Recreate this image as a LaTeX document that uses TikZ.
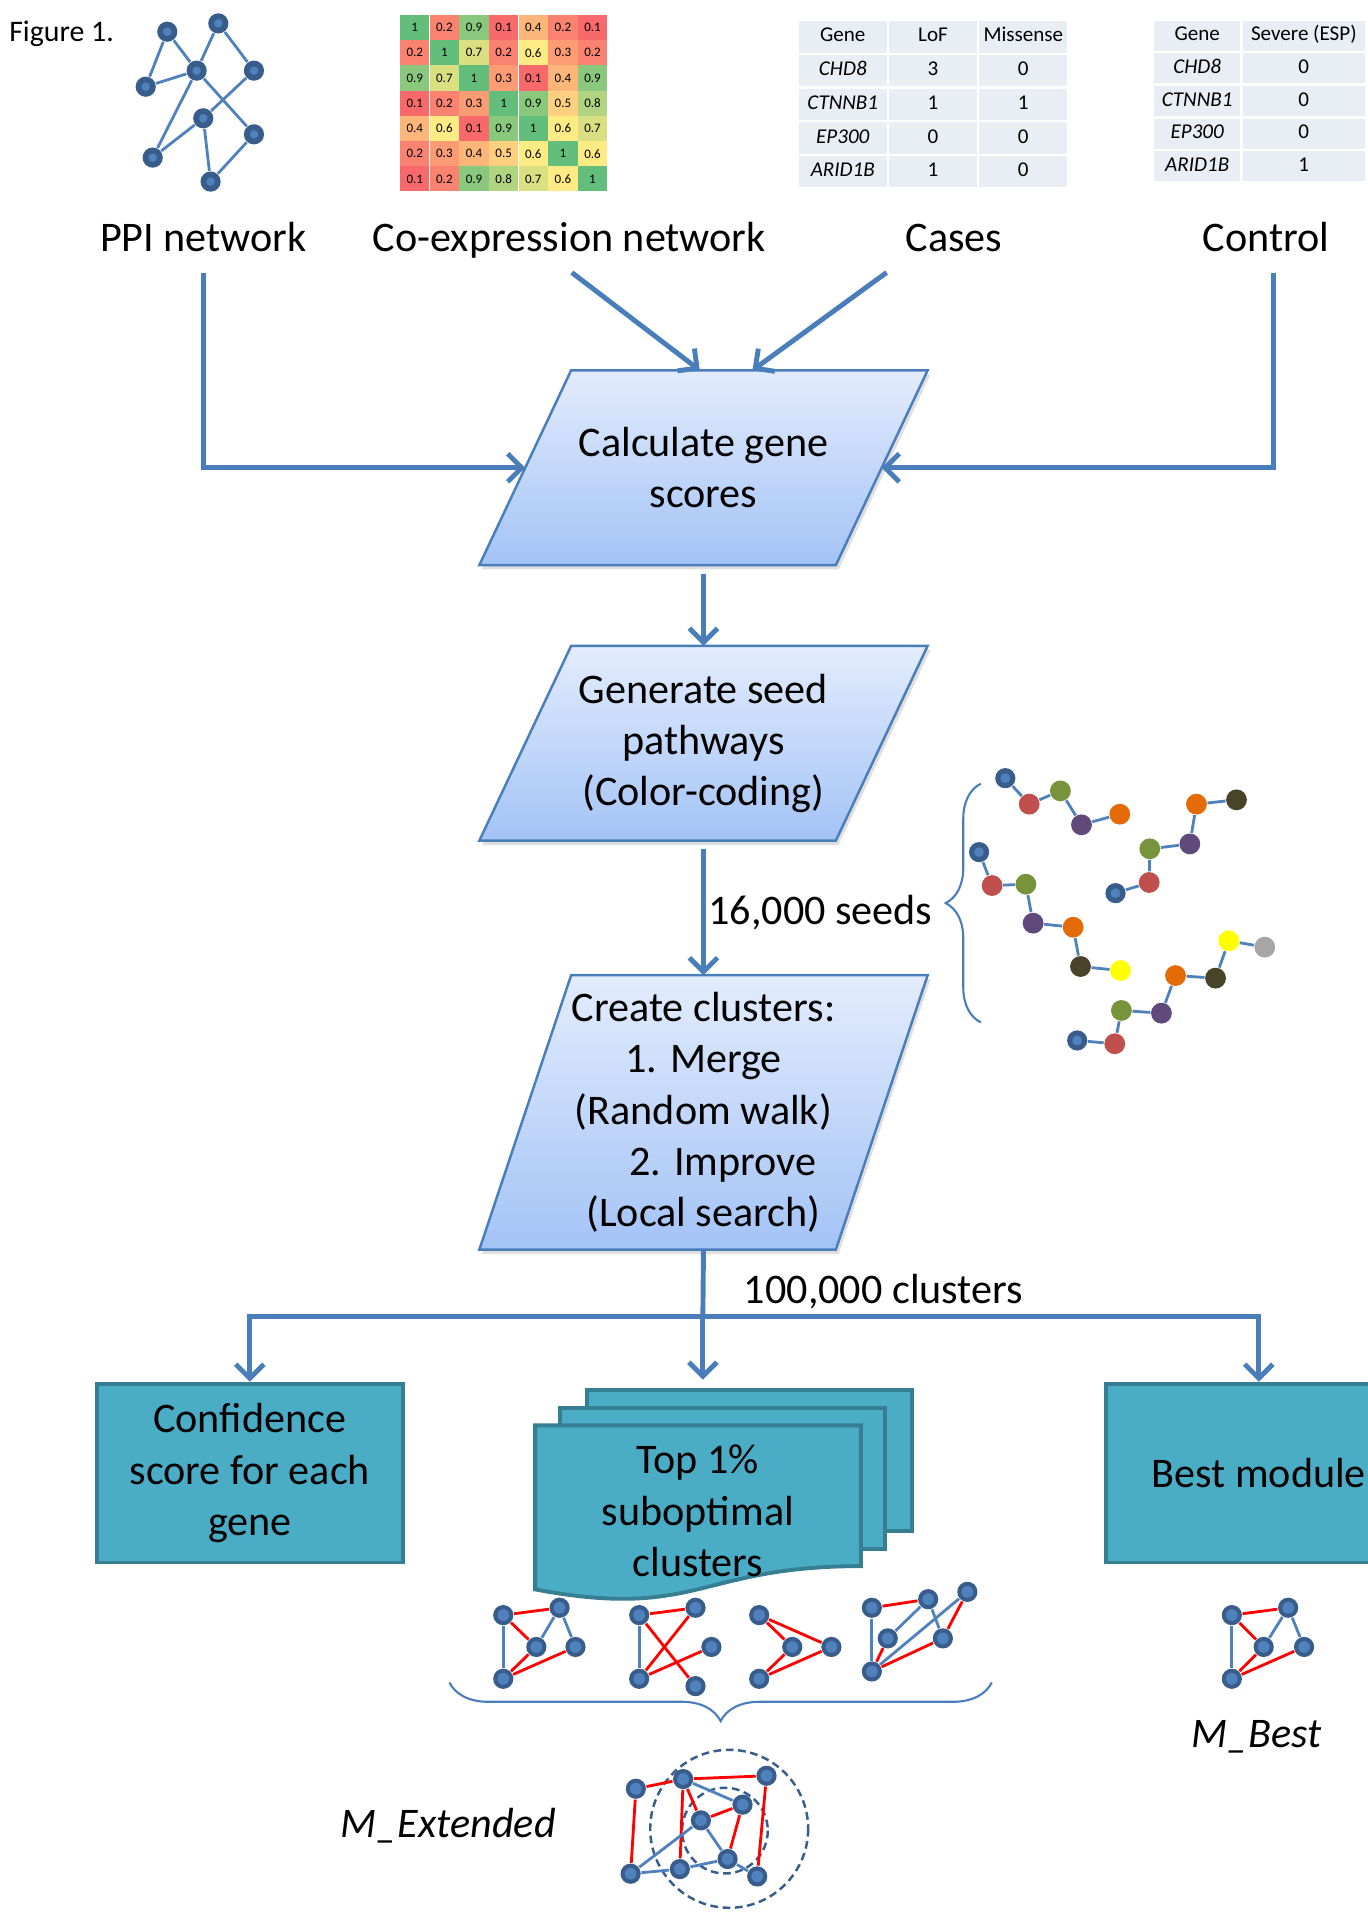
\documentclass[tikz,border=0pt]{standalone}
\usepackage{fontspec}
\setmainfont{Carlito}
\usetikzlibrary{arrows.meta}
\usetikzlibrary{positioning, calc, matrix}
\usetikzlibrary{backgrounds, shadows}
\usetikzlibrary{decorations.pathreplacing}

\newdimen\pxl
\pxl=0.012247cm

\definecolor{flowblue}{HTML}{4A7EBB}
\definecolor{paraTop}{HTML}{E3ECFD}
\definecolor{paraBottom}{HTML}{A3C3F6}
\definecolor{paraLine}{HTML}{4A7EBB}
\definecolor{tealFill}{HTML}{4BACC6}
\definecolor{tealLine}{HTML}{367E92}
\definecolor{netDark}{HTML}{385D8A}
\definecolor{netLight}{HTML}{4F81BD}
\definecolor{tabFill}{HTML}{E9EDF4}
\definecolor{hmRed}{HTML}{F8696B}
\definecolor{hmYellow}{HTML}{FFEB84}
\definecolor{hmGreen}{HTML}{63BE7B}
\definecolor{seedRed}{HTML}{C0504D}
\definecolor{seedGreen}{HTML}{77933C}
\definecolor{seedPurple}{HTML}{604A7B}
\definecolor{seedOrange}{HTML}{E36C09}
\definecolor{seedDark}{HTML}{494429}
\definecolor{seedYellow}{HTML}{FFFF00}
\definecolor{seedGray}{HTML}{A6A6A6}

\tikzset{
lbl/.style={font=\fontsize{12}{14.6}\selectfont, inner sep=0pt, align=center},
toplbl/.style={lbl, anchor=base, text depth=0pt},
flow/.style={draw=flowblue, line width=1.4pt, -{Straight Barb[length=4pt, width=8pt]}},
parashape/.style={draw=paraLine, line width=0.7pt, top color=paraTop, bottom color=paraBottom,
    drop shadow={opacity=0.25, shadow xshift=0.8pt, shadow yshift=-1.2pt}},
paratext/.style={lbl, minimum width=290*\pxl, minimum height=#1*\pxl},
tealbox/.style={lbl, draw=tealLine, fill=tealFill, line width=1.1pt, minimum width=250*\pxl, minimum height=146*\pxl},
sheet/.style={draw=tealLine, fill=tealFill, line width=1.1pt, minimum width=265*\pxl, minimum height=115*\pxl},
tabcell/.style={fill=tabFill, font=\fontsize{6}{7}\selectfont, inner sep=0pt, text height=4.3pt, text depth=1.4pt, minimum width=25pt},
hmcell/.style={minimum width=8.4pt, minimum height=7.15pt, inner sep=0pt, font=\fontsize{3.7}{4}\selectfont},
gnode/.style={circle, fill=netDark, minimum size=16.5*\pxl, inner sep=0pt,
    path picture={\fill[netLight] (path picture bounding box.center) circle (#1*\pxl);}},
gnode/.default=4.8,
seednode/.style={circle, fill=#1, minimum size=17*\pxl, inner sep=0pt},
blueedge/.style={draw=netLight, line width=0.8pt},
rededge/.style={draw=red, line width=0.8pt},
seedlink/.style={draw=netLight, line width=0.8pt},
curly/.style={draw=flowblue, line width=0.6pt, decorate, decoration={brace, amplitude=#1}},
zone/.style={draw=netDark, line width=0.7pt, dash pattern=on 2.2pt off 1.3pt},
}

% parallelogram behind a text node
\newcommand\drawpara[1]{%
  \begin{scope}[on background layer]
    \path[parashape] ($(#1.north west)+(37.5,0)$) -- ($(#1.north east)+(37.5,0)$)
      -- ($(#1.south east)-(37.5,0)$) -- ($(#1.south west)-(37.5,0)$) -- cycle;
  \end{scope}}

\begin{document}
\begin{tikzpicture}[x=\pxl, y=-\pxl]
\useasboundingbox (0,0) rectangle (1117,1568);

\node[font=\fontsize{8.5}{10}\selectfont, anchor=west, inner sep=0pt] (figlbl) at (7,28) {Figure 1.};

% PPI network
\node[gnode=3.5] (p1) at (136.6,25.9) {};
\node[gnode=3.5] (p2) at (178.3,19.1) {};
\node[gnode=3.5] (p3) at (160.6,57.7) {};
\node[gnode=3.5] (p4) at (207.4,57.7) {};
\node[gnode=3.5] (p5) at (119,70.8) {};
\node[gnode=3.5] (p6) at (166,96.6) {};
\node[gnode=3.5] (p7) at (207.4,109.7) {};
\node[gnode=3.5] (p8) at (124.7,128.7) {};
\node[gnode=3.5] (p9) at (172,148.3) {};
\draw[blueedge] (p1) -- (p5);
\draw[blueedge] (p1) -- (p3);
\draw[blueedge] (p2) -- (p3);
\draw[blueedge] (p2) -- (p4);
\draw[blueedge] (p5) -- (p3);
\draw[blueedge] (p3) -- (p8);
\draw[blueedge] (p3) -- (p7);
\draw[blueedge] (p4) -- (p6);
\draw[blueedge] (p6) -- (p8);
\draw[blueedge] (p6) -- (p9);
\draw[blueedge] (p7) -- (p9);

% co-expression heat map
\foreach \vals [count=\r] in {{1,0.2,0.9,0.1,0.4,0.2,0.1},{0.2,1,0.7,0.2,0.6,0.3,0.2},
    {0.9,0.7,1,0.3,0.1,0.4,0.9},{0.1,0.2,0.3,1,0.9,0.5,0.8},{0.4,0.6,0.1,0.9,1,0.6,0.7},
    {0.2,0.3,0.4,0.5,0.6,1,0.6},{0.1,0.2,0.9,0.8,0.7,0.6,1}}{
  \foreach \v [count=\c] in \vals {
    \ifdim\v pt>0.6pt
      \pgfmathtruncatemacro\mixp{(\v-0.6)/0.4*100}\def\cellcol{hmGreen!\mixp!hmYellow}
    \else
      \pgfmathtruncatemacro\mixp{(\v-0.1)/0.5*100}\def\cellcol{hmYellow!\mixp!hmRed}
    \fi
    \node[hmcell, fill=\cellcol] (hm-\r-\c) at ({326.6+24.2*(\c-0.5)},{12.2+20.6*(\r-0.5)}) {\v};
  }
}

% variant tables
\matrix (casetab) [matrix of nodes, nodes={tabcell, minimum height=8.9pt},
    column sep=0.7pt, row sep=0.7pt] at (762,85.2) {
  Gene & LoF & Missense \\
  \textit{CHD8} & 3 & 0 \\
  \textit{CTNNB1} & 1 & 1 \\
  \textit{EP300} & 0 & 0 \\
  \textit{ARID1B} & 1 & 0 \\
};
\matrix (ctrltab) [matrix of nodes, nodes={tabcell, minimum height=8.6pt},
    column sep=0.7pt, row sep=0.7pt,
    column 1/.style={nodes={minimum width=24.6pt}},
    column 2/.style={nodes={minimum width=34.7pt}}] at (1028.5,82.5) {
  Gene & Severe (ESP) \\
  \textit{CHD8} & 0 \\
  \textit{CTNNB1} & 0 \\
  \textit{EP300} & 0 \\
  \textit{ARID1B} & 1 \\
};

% inputs
\node[toplbl] (ppi) at (166,205) {PPI network};
\node[toplbl] (coexp) at (465,205) {Co-expression network};
\node[toplbl] (cases) at (779,205) {Cases};
\node[toplbl] (ctrl) at (1034,205) {Control};

% pipeline
\node[paratext=158] (calc) at (574.5,382) {Calculate gene\\scores};
\drawpara{calc}
\node[paratext=158] (gen) at (574.5,607) {Generate seed\\pathways\\(Color-coding)};
\drawpara{gen}
\node[paratext=223] (clus) at (574.5,908.5) {Create clusters:\\1. Merge\\(Random walk)\\\hspace*{11pt}2. Improve\\(Local search)};
\drawpara{clus}

\draw[flow] ($(ppi.south)+(0,17)$) |- (calc.west);
\draw[flow] ($(ctrl.south)+(6,17)$) |- (calc.east);
\draw[flow] ($(coexp.south)+(2,17)$) -- ($(calc.north)+(-3,0)$);
\draw[flow] ($(cases.south)+(-55,17)$) -- ($(calc.north)+(40,0)$);
\draw[flow] ($(calc.south)+(0,7)$) -- (gen.north);
\draw[flow] ($(gen.south)+(0,7)$) -- (clus.north);
\node[lbl, anchor=west] (seedslbl) at (578,745) {16,000 seeds};

% outputs
\node[tealbox] (conf) at (204,1203) {Confidence\\score for each\\gene};
\node[tealbox] (best) at (1028,1203) {Best module};
\node[sheet] (sheet3) at (612,1193) {};
\node[sheet] (sheet2) at (590,1207.5) {};
\path[draw=tealLine, fill=tealFill, line width=1.1pt] (437,1164) -- (703,1164) -- (703,1279)
  .. controls (570,1279) and (570,1323) .. (437,1298) -- cycle;
\node[lbl] (topdoc) at (570,1234) {Top 1\%\\suboptimal\\clusters};

\coordinate (split) at (574,1075);
\draw[draw=flowblue, line width=1.4pt] (clus.south) -- (split);
\draw[flow, shorten >=2.5pt] (split) -- (split |- sheet3.north);
\draw[flow] (split) -| (conf.north);
\draw[flow] (split) -| (best.north);
\node[lbl, anchor=west] (clustlbl) at (607,1055) {100,000 clusters};

% seed pathways
\node[gnode=4] (s11) at (821,635.5) {};
\node[seednode=seedRed] (s12) at (840.5,656.7) {};
\node[seednode=seedGreen] (s13) at (866,645.9) {};
\node[seednode=seedPurple] (s14) at (883.2,673.6) {};
\node[seednode=seedOrange] (s15) at (914.5,664.9) {};
\draw[seedlink] (s11) -- (s12) -- (s13) -- (s14) -- (s15);

\node[gnode=4] (s21) at (799.6,695.9) {};
\node[seednode=seedRed] (s22) at (810.2,723.2) {};
\node[seednode=seedGreen] (s23) at (837.8,722.1) {};
\node[seednode=seedPurple] (s24) at (843.7,753.9) {};
\node[seednode=seedOrange] (s25) at (876.4,757.2) {};
\node[seednode=seedDark] (s26) at (882.4,789.3) {};
\node[seednode=seedYellow] (s27) at (915.1,792.6) {};
\draw[seedlink] (s21) -- (s22) -- (s23) -- (s24) -- (s25) -- (s26) -- (s27);

\node[gnode=4] (s31) at (911,729.4) {};
\node[seednode=seedRed] (s32) at (938.5,720.7) {};
\node[seednode=seedGreen] (s33) at (939,693.2) {};
\node[seednode=seedPurple] (s34) at (971.7,689.2) {};
\node[seednode=seedOrange] (s35) at (977.1,656.7) {};
\node[seednode=seedDark] (s36) at (1009.8,653.2) {};
\draw[seedlink] (s31) -- (s32) -- (s33) -- (s34) -- (s35) -- (s36);

\node[gnode=4] (s41) at (879.7,849.7) {};
\node[seednode=seedRed] (s42) at (910.4,852.4) {};
\node[seednode=seedGreen] (s43) at (915.8,825.2) {};
\node[seednode=seedPurple] (s44) at (948.5,827.4) {};
\node[seednode=seedOrange] (s45) at (960,796.7) {};
\node[seednode=seedDark] (s46) at (992.7,798.8) {};
\node[seednode=seedYellow] (s47) at (1003.5,768.3) {};
\node[seednode=seedGray] (s48) at (1032.9,773.5) {};
\draw[seedlink] (s41) -- (s42) -- (s43) -- (s44) -- (s45) -- (s46) -- (s47) -- (s48);

\draw[curly=10pt] (801,835) -- (801,640);

% suboptimal clusters
\node[gnode] (a1) at (411,1319) {};
\node[gnode] (a2) at (457,1313) {};
\node[gnode] (a3) at (438,1345) {};
\node[gnode] (a4) at (470,1345) {};
\node[gnode] (a5) at (411,1371) {};
\draw[rededge] (a1) -- (a2);
\draw[rededge] (a1) -- (a3);
\draw[rededge] (a3) -- (a5);
\draw[rededge] (a4) -- (a5);
\draw[blueedge] (a1) -- (a5);
\draw[blueedge] (a2) -- (a3);
\draw[blueedge] (a2) -- (a4);

\node[gnode] (b1) at (522,1319) {};
\node[gnode] (b2) at (568,1313) {};
\node[gnode] (b3) at (581,1345) {};
\node[gnode] (b4) at (522,1371) {};
\node[gnode] (b5) at (568,1377) {};
\draw[rededge] (b1) -- (b2);
\draw[rededge] (b1) -- (b5);
\draw[rededge] (b2) -- (b4);
\draw[rededge] (b3) -- (b4);
\draw[blueedge] (b1) -- (b4);

\node[gnode] (c1) at (620,1319) {};
\node[gnode] (c2) at (647,1345) {};
\node[gnode] (c3) at (679,1345) {};
\node[gnode] (c4) at (620,1371) {};
\draw[rededge] (c1) -- (c2);
\draw[rededge] (c1) -- (c3);
\draw[rededge] (c2) -- (c4);
\draw[rededge] (c3) -- (c4);

\node[gnode] (d1) at (712,1313) {};
\node[gnode] (d2) at (758,1306) {};
\node[gnode] (d3) at (790,1300) {};
\node[gnode] (d4) at (725,1338) {};
\node[gnode] (d5) at (770,1338) {};
\node[gnode] (d6) at (712,1365) {};
\draw[rededge] (d1) -- (d2);
\draw[rededge] (d3) -- (d5);
\draw[rededge] (d4) -- (d6);
\draw[rededge] (d5) -- (d6);
\draw[blueedge] (d1) -- (d6);
\draw[blueedge] (d2) -- (d4);
\draw[blueedge] (d2) -- (d5);
\draw[blueedge] (d3) -- (d6);

\draw[curly=11pt, decoration={mirror}] (367,1374) -- (810,1374);

% extended module
\draw[zone] (595.5,1493.5) circle (64.5);
\draw[zone] (592,1495) circle (35);
\node[gnode] (e1) at (519.3,1460.8) {};
\node[gnode] (e2) at (557.9,1452.9) {};
\node[gnode] (e3) at (626,1450.2) {};
\node[gnode] (e4) at (606.4,1473.8) {};
\node[gnode] (e5) at (572.4,1486.6) {};
\node[gnode] (e6) at (594.2,1518.2) {};
\node[gnode] (e7) at (515,1530.2) {};
\node[gnode] (e8) at (555.2,1526.4) {};
\node[gnode] (e9) at (618.4,1532.4) {};
\draw[rededge] (e1) -- (e2);
\draw[rededge] (e2) -- (e3);
\draw[rededge] (e1) -- (e7);
\draw[rededge] (e2) -- (e8);
\draw[rededge] (e2) -- (e5);
\draw[rededge] (e5) -- (e4);
\draw[rededge] (e4) -- (e6);
\draw[rededge] (e3) -- (e9);
\draw[blueedge] (e2) -- (e4);
\draw[blueedge] (e5) -- (e7);
\draw[blueedge] (e5) -- (e6);
\draw[blueedge] (e7) -- (e8);
\draw[blueedge] (e8) -- (e6);
\draw[blueedge] (e6) -- (e9);
\node[lbl, font=\fontsize{12}{14.6}\selectfont\itshape] (mext) at (366,1491) {M\_Extended};

% best module
\node[gnode] (m1) at (1006,1319) {};
\node[gnode] (m2) at (1052,1313) {};
\node[gnode] (m3) at (1032,1345) {};
\node[gnode] (m4) at (1065,1345) {};
\node[gnode] (m5) at (1006,1371) {};
\draw[rededge] (m1) -- (m2);
\draw[rededge] (m1) -- (m3);
\draw[rededge] (m3) -- (m5);
\draw[rededge] (m4) -- (m5);
\draw[blueedge] (m1) -- (m5);
\draw[blueedge] (m2) -- (m3);
\draw[blueedge] (m2) -- (m4);
\node[lbl, font=\fontsize{12}{14.6}\selectfont\itshape] (mbest) at (1026,1418) {M\_Best};
\end{tikzpicture}
\end{document}
